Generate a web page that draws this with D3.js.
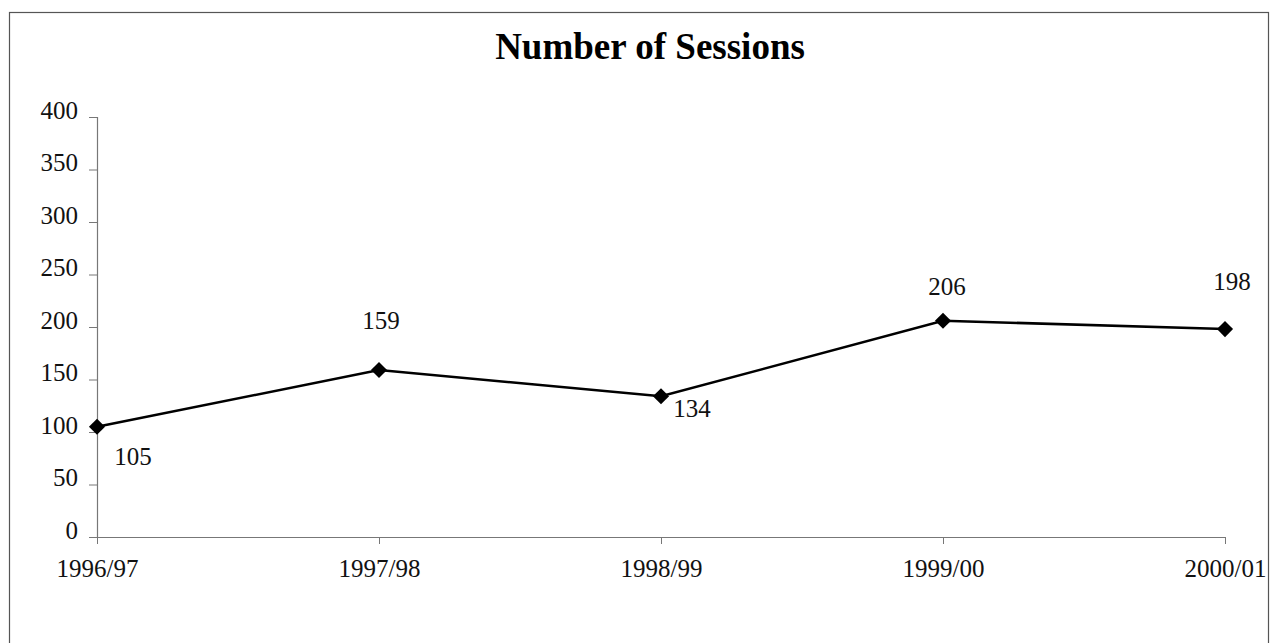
<!DOCTYPE html>
<html><head><meta charset="utf-8">
<script src="https://cdn.jsdelivr.net/npm/d3@7"></script>
<style>html,body{margin:0;padding:0;background:#fff;}svg{display:block;}</style>
</head><body>
<svg id="c" width="1278" height="643"></svg>
<script>
const categories = ["1996/97","1997/98","1998/99","1999/00","2000/01"];
const sessions = [105,159,134,206,198];
const yTicks = [0,50,100,150,200,250,300,350,400];
// label placement offsets (layout only)
const labelDx = [36, 2, 31, 4, 7];
const labelDy = [38, -41, 21, -26, -39];

const svg = d3.select("#c");
const font = "'Liberation Serif','Times New Roman',serif";
svg.append("rect").attr("x",9.5).attr("y",12.5).attr("width",1259).attr("height",640)
  .attr("fill","#fff").attr("stroke","#555").attr("stroke-width",1.2);

const x = d3.scalePoint().domain(categories).range([97,1225]);
const y = d3.scaleLinear().domain([0,400]).range([537,117]);

svg.append("text").attr("x",650).attr("y",59).attr("text-anchor","middle")
  .attr("font-family",font).attr("font-weight","bold").attr("font-size",37).text("Number of Sessions");

const ya = svg.append("g").attr("transform","translate(97,0)")
  .call(d3.axisLeft(y).tickValues(yTicks).tickSize(8).tickPadding(11));
ya.select(".domain").attr("stroke","#777").attr("stroke-width",1.2);
ya.selectAll(".tick line").attr("stroke","#777");
ya.selectAll("text").attr("font-family",font).attr("font-size",25).attr("fill","#111").attr("dy","0.04em");

const xa = svg.append("g").attr("transform","translate(0,537)")
  .call(d3.axisBottom(x).tickSize(7).tickPadding(15).tickSizeOuter(0));
xa.select(".domain").attr("stroke","#777").attr("stroke-width",1.2).attr("d","M90,0.5H1225");
xa.selectAll(".tick line").attr("stroke","#777");
xa.selectAll("text").attr("font-family",font).attr("font-size",25).attr("fill","#111");

const line = d3.line().x((d,i)=>x(categories[i])).y(d=>y(d));
svg.append("path").datum(sessions).attr("d",line).attr("fill","none").attr("stroke","#000").attr("stroke-width",2.5);

const diamond = {draw(ctx,size){const r=Math.sqrt(size/2);ctx.moveTo(0,-r);ctx.lineTo(r,0);ctx.lineTo(0,r);ctx.lineTo(-r,0);ctx.closePath();}};
svg.selectAll(".m").data(sessions).enter().append("path").attr("class","m")
  .attr("transform",(d,i)=>`translate(${x(categories[i])},${y(d)})`)
  .attr("d",d3.symbol(diamond,130))
  .attr("fill","#000");

svg.selectAll(".lbl").data(sessions).enter().append("text").attr("class","lbl")
  .attr("font-family",font).attr("font-size",25).attr("fill","#111")
  .attr("text-anchor","middle")
  .attr("x",(d,i)=>x(categories[i])+labelDx[i])
  .attr("y",(d,i)=>y(d)+labelDy[i])
  .text(d=>d);
</script>
</body></html>
